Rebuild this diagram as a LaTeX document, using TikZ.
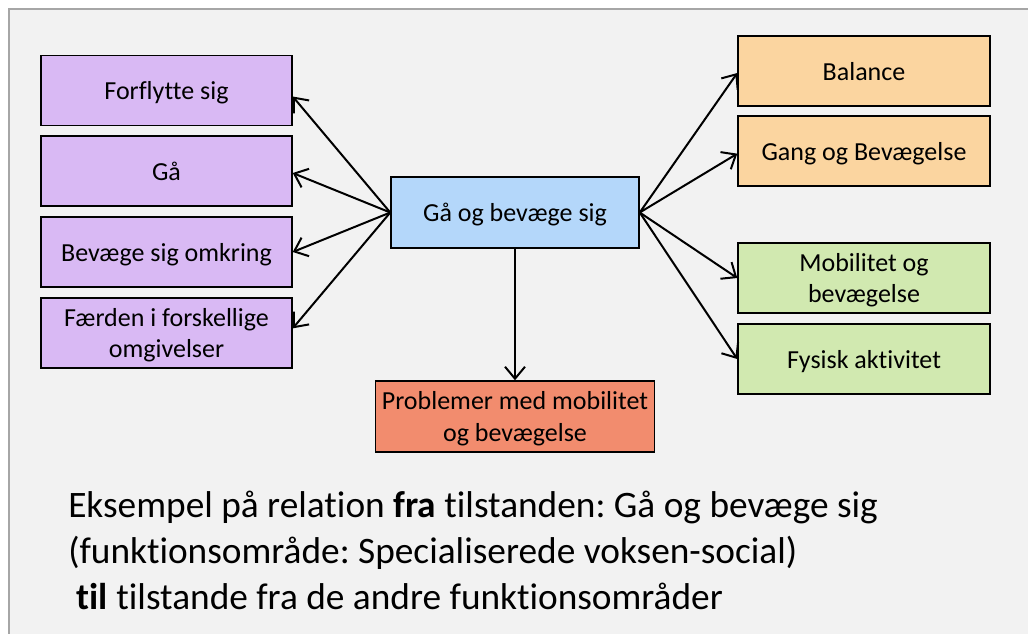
\documentclass[tikz,border=0pt]{standalone}
\usepackage{fontspec}
\setmainfont{Carlito}[Ligatures=NoCommon]
\usetikzlibrary{arrows.meta}
\definecolor{lilla}{RGB}{217,185,244}
\definecolor{lyseblaa}{RGB}{180,215,250}
\definecolor{orange}{RGB}{251,213,160}
\definecolor{lysegroen}{RGB}{209,233,176}
\definecolor{laks}{RGB}{242,140,110}
\definecolor{baggrund}{RGB}{242,242,242}
\definecolor{ramme}{RGB}{166,166,166}
\frenchspacing
\begin{document}
\begin{tikzpicture}[x=0.75pt,y=-0.75pt,
	boks/.style={draw=black,line width=1.1pt,inner sep=2pt,align=center,text depth=0pt,
		font=\fontsize{19.5}{23.5}\selectfont,minimum height=52.5pt},
	venstre/.style={boks,fill=lilla,minimum width=188.25pt},
	hoejre/.style={boks,minimum width=189pt},
	pil/.style={line width=1.5pt,-{Straight Barb[length=9pt,width=15pt,line width=1.5pt]}}]
	\useasboundingbox (0,0) rectangle (1028,633);
	\fill[white] (0,0) rectangle (1028,633);
	\draw[ramme,fill=baggrund,line width=1.5pt] (9,9) rectangle (1040,650);

	% midten
	\node[boks,fill=lyseblaa,minimum width=186pt,minimum height=53.25pt] (gaa) at (515,212.5) {Gå og bevæge sig};

	% venstre side
	\node[venstre] (forflytte) at (166.5,90.5) {Forflytte sig};
	\node[venstre] (gaaen) at (166.5,171) {Gå};
	\node[venstre] (omkring) at (166.5,252) {Bevæge sig omkring};
	\node[venstre] (faerden) at (166.5,333) {Færden i forskellige\\omgivelser};

	% hoejre side
	\node[hoejre,fill=orange] (balance) at (864,71) {Balance};
	\node[hoejre,fill=orange] (gang) at (864,151) {Gang og Bevægelse};
	\node[hoejre,fill=lysegroen] (mobilitet) at (864,278) {Mobilitet og\\bevægelse};
	\node[hoejre,fill=lysegroen] (fysisk) at (864,359) {Fysisk aktivitet};

	% nederst
	\node[boks,fill=laks,minimum width=209.25pt,minimum height=53.25pt] (problemer) at (515,416.5) {Problemer med mobilitet\\og bevægelse};

	\draw[pil] (gaa.west) -- ([yshift=-4.5pt]forflytte.east);
	\draw[pil] (gaa.west) -- ([yshift=-1.5pt]gaaen.east);
	\draw[pil] (gaa.west) -- (omkring.east);
	\draw[pil] (gaa.west) -- ([yshift=3.5pt]faerden.east);
	\draw[pil] (gaa.east) -- ([yshift=-1.5pt]balance.west);
	\draw[pil] (gaa.east) -- ([yshift=-2pt]gang.west);
	\draw[pil] (gaa.east) -- (mobilitet.west);
	\draw[pil] (gaa.east) -- (fysisk.west);
	\draw[pil] (gaa.south) -- (problemer.north);

	\node[anchor=north west,inner sep=0pt,align=left,
		font=\fontsize{28}{34.5}\selectfont] (tekst) at (68,491)
		{Eksempel på relation \textbf{fra} tilstanden: Gå og bevæge sig\\
		(funktionsområde: Specialiserede voksen-social)\\
		\ \textbf{til} tilstande fra de andre funktionsområder};
\end{tikzpicture}
\end{document}
